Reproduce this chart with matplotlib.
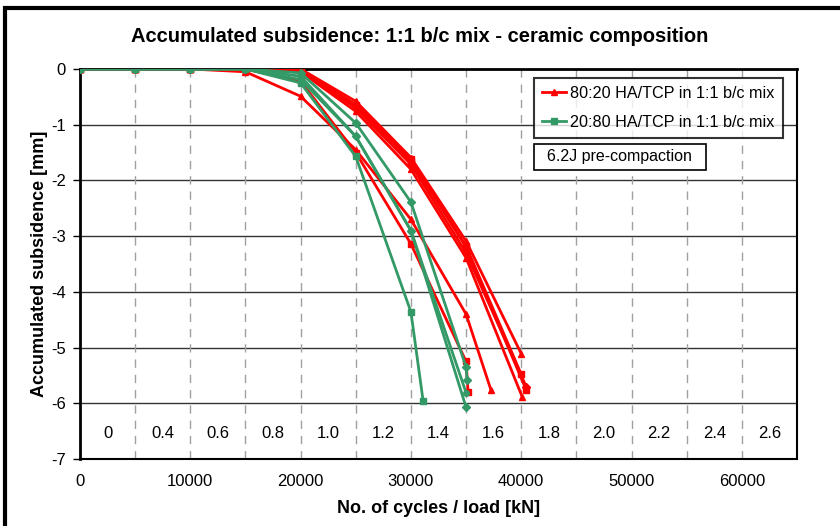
import numpy as np
import matplotlib
matplotlib.use("Agg")
import matplotlib.pyplot as plt
from matplotlib.patches import Rectangle
from matplotlib.lines import Line2D

plt.rcParams['font.family'] = ['Liberation Sans', 'DejaVu Sans']
plt.rcParams['axes.unicode_minus'] = False

# cycles at which subsidence was read
x_base = [0, 5000, 10000, 15000, 20000, 25000, 30000, 35000]

# 80:20 HA/TCP in 1:1 b/c mix (red)
red_x = [
    x_base + [40000],
    x_base + [40000],
    x_base + [40450],
    x_base + [40100],
    x_base + [40450],
    x_base + [37270],
    x_base + [35180],
]
red_y = [
    [0, 0, 0, 0, 0.00, -0.58, -1.59, -3.09, -5.11],
    [0, 0, 0, 0, -0.02, -0.64, -1.65, -3.18, -5.48],
    [0, 0, 0, 0, -0.03, -0.70, -1.71, -3.30, -5.70],
    [0, 0, 0, 0, -0.05, -0.76, -1.80, -3.39, -5.89],
    [0, 0, 0, 0, -0.02, -0.66, -1.62, -3.20, -5.76],
    [0, 0, 0, -0.05, -0.49, -1.45, -2.70, -4.40, -5.77],
    [0, 0, 0, 0, -0.22, -1.50, -3.14, -5.25, -5.80],
]
red_markers = ['^', 's', 'D', '^', 's', '^', 's']

# 20:80 HA/TCP in 1:1 b/c mix (green)
green_x = [
    x_base[:7] + [31100],
    x_base,
    x_base + [35100],
    x_base,
]
green_y = [
    [0, 0, 0, 0, -0.25, -1.57, -4.36, -5.95],
    [0, 0, 0, 0, -0.19, -1.21, -2.90, -5.81],
    [0, 0, 0, 0, -0.07, -0.97, -2.39, -5.35, -5.59],
    [0, 0, 0, 0, -0.13, -1.21, -2.90, -6.07],
]
green_markers = ['s', 'o', 'D', 'D']

load_labels = ['0', '0.4', '0.6', '0.8', '1.0', '1.2', '1.4', '1.6',
               '1.8', '2.0', '2.2', '2.4', '2.6']

red = '#FF0000'
green = '#339966'

fig = plt.figure(figsize=(8.4, 5.26), dpi=100)
ax = fig.add_axes([80/840, 1-459/526, 717/840, 390/526])

for xs, ys, m in zip(red_x, red_y, red_markers):
    ax.plot(xs, ys, color=red, lw=2, marker=m, ms=4, zorder=3)
for xs, ys, m in zip(green_x, green_y, green_markers):
    ax.plot(xs, ys, color=green, lw=2, marker=m, ms=4, zorder=3)

ax.set_xlim(0, 65000)
ax.set_ylim(-7, 0)
ax.set_xticks(range(0, 60001, 10000))
ax.set_yticks(range(-7, 1))
ax.set_yticklabels([str(v) for v in range(-7, 1)])
ax.tick_params(axis='x', length=0, pad=11, labelsize=12)
ax.tick_params(axis='y', direction='out', length=5, width=1, pad=5, labelsize=12)

# gridlines
for v in range(-6, 0):
    ax.axhline(v, color='#333333', lw=1, zorder=1)
for v in range(5000, 65000, 5000):
    ax.axvline(v, color='#A0A0A0', lw=1, ls=(0, (6, 5)), zorder=1)

for i, lab in enumerate(load_labels):
    ax.text(2500 + 5000*i, -6.55, lab, ha='center', va='center', fontsize=12)

for s in ['left', 'top']:
    ax.spines[s].set_linewidth(2)
for s in ['right', 'bottom']:
    ax.spines[s].set_linewidth(1.5)

ax.set_xlabel('No. of cycles / load [kN]', fontsize=13, fontweight='bold', labelpad=8)
ax.set_ylabel('Accumulated subsidence [mm]', fontsize=13, fontweight='bold', labelpad=2)
fig.suptitle('Accumulated subsidence: 1:1 b/c mix - ceramic composition',
             fontsize=14.5, fontweight='bold', y=1-36/526, va='center')

handles = [Line2D([], [], color=red, lw=2, marker='^', ms=4),
           Line2D([], [], color=green, lw=2, marker='s', ms=4)]
leg = ax.legend(handles, ['80:20 HA/TCP in 1:1 b/c mix', '20:80 HA/TCP in 1:1 b/c mix'],
                loc='upper left', bbox_to_anchor=((534-80)/717, 1-(78-69)/390), fontsize=11.6,
                frameon=True, fancybox=False, handlelength=1.5, handletextpad=0.25,
                borderpad=0.5, labelspacing=0.85, borderaxespad=0)
leg.get_frame().set_edgecolor('black')
leg.get_frame().set_linewidth(1.5)
leg.set_zorder(5)

ax.add_patch(Rectangle(((534-80)/717, 1-(170-69)/390), (706-534)/717, 26/390,
                       transform=ax.transAxes, fill=True, facecolor='white',
                       edgecolor='black', lw=1.2, zorder=5))
ax.text((547-80)/717, 1-(157-69)/390, '6.2J pre-compaction', transform=ax.transAxes,
        ha='left', va='center', fontsize=11.5, zorder=6)

# outer frame of the chart
fig.add_artist(Rectangle((5/840, -0.2), 1.2, 1.2+1-8/526-1, transform=fig.transFigure,
                         fill=False, edgecolor='black', lw=3, clip_on=False))

fig.savefig('out.png', dpi=100)
